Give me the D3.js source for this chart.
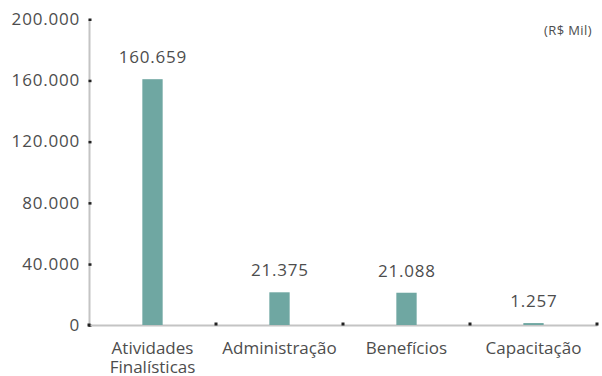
<!DOCTYPE html>
<html>
<head>
<meta charset="utf-8">
<script src="https://cdn.jsdelivr.net/npm/d3@7"></script>
<style>
  html, body { margin: 0; padding: 0; background: #fff; }
  svg { display: block; }
  text { font-family: "Open Sans", "Noto Sans", sans-serif; fill: #4d4d4d; }
</style>
</head>
<body>
<svg id="chart" width="602" height="376"></svg>
<script>
// Data
const categories = ["Atividades\nFinalísticas", "Administração", "Benefícios", "Capacitação"];
const values = [160659, 21375, 21088, 1257];
const yTicks = [0, 40000, 80000, 120000, 160000, 200000];
const unitLabel = "(R$ Mil)";

const locale = d3.formatLocale({ decimal: ",", thousands: ".", grouping: [3], currency: ["R$", ""] });
const fmt = locale.format(",d");

const svg = d3.select("#chart");
const x0 = 89, x1 = 597, yBase = 325, yTop = 19;

const x = d3.scaleBand().domain(categories).range([x0, x1]).paddingInner(0.84).paddingOuter(0.42);
const y = d3.scaleLinear().domain([0, 200000]).range([yBase, yTop]);

// Y axis
const yAxis = svg.append("g").attr("transform", `translate(${x0},0)`)
  .call(d3.axisLeft(y).tickValues(yTicks).tickFormat(d => d === 0 ? "0" : fmt(d)).tickSize(0).tickPadding(9));
yAxis.select(".domain").attr("stroke", "#c4c4c4").attr("stroke-width", 2);
yAxis.selectAll(".tick text").attr("font-size", 17).attr("fill", "#4d4d4d")
  .attr("letter-spacing", "0.8px")
  .attr("font-family", "'Open Sans', 'Noto Sans', sans-serif");
yAxis.selectAll(".tick").append("rect")
  .attr("x", -0.5).attr("y", -1).attr("width", 3).attr("height", 2.5).attr("fill", "#222");

// X axis
const xAxis = svg.append("g").attr("transform", `translate(0,${yBase})`)
  .call(d3.axisBottom(x).tickSize(0).tickFormat(""));
xAxis.select(".domain").attr("stroke", "#c4c4c4").attr("stroke-width", 2);
// boundary markers
const bounds = categories.map(c => x(c) + x.bandwidth() / 2 + x.step() / 2);
svg.append("g").selectAll("rect").data(bounds).join("rect")
  .attr("x", d => d - 1.5).attr("y", yBase - 2.5).attr("width", 3).attr("height", 3).attr("fill", "#222");
svg.append("rect").attr("x", x0 - 1.5).attr("y", yBase - 1.5).attr("width", 3).attr("height", 3).attr("fill", "#222");

// Category labels
const cat = svg.append("g").selectAll("text").data(categories).join("text")
  .attr("text-anchor", "middle").attr("font-size", 17)
  .attr("x", d => x(d) + x.bandwidth() / 2).attr("y", 354);
cat.each(function(d) {
  const lines = d.split("\n");
  d3.select(this).selectAll("tspan").data(lines).join("tspan")
    .attr("x", x(d) + x.bandwidth() / 2).attr("dy", (l, i) => i === 0 ? 0 : 18.5).text(l => l);
});

// Bars
svg.append("g").selectAll("rect").data(values).join("rect")
  .attr("x", (d, i) => x(categories[i])).attr("width", x.bandwidth())
  .attr("y", d => y(d)).attr("height", d => yBase - y(d)).attr("fill", "#6fa7a2");

// Value labels
svg.append("g").selectAll("text").data(values).join("text")
  .attr("text-anchor", "middle").attr("font-size", 17).attr("letter-spacing", "0.8px")
  .attr("x", (d, i) => x(categories[i]) + x.bandwidth() / 2 + 0.4)
  .attr("y", d => y(d) - 16).text(d => fmt(d));

// Unit
svg.append("text").attr("x", 544).attr("y", 35)
  .attr("font-size", 13).attr("letter-spacing", "0.4px").attr("fill", "#555").text(unitLabel);
</script>
</body>
</html>
